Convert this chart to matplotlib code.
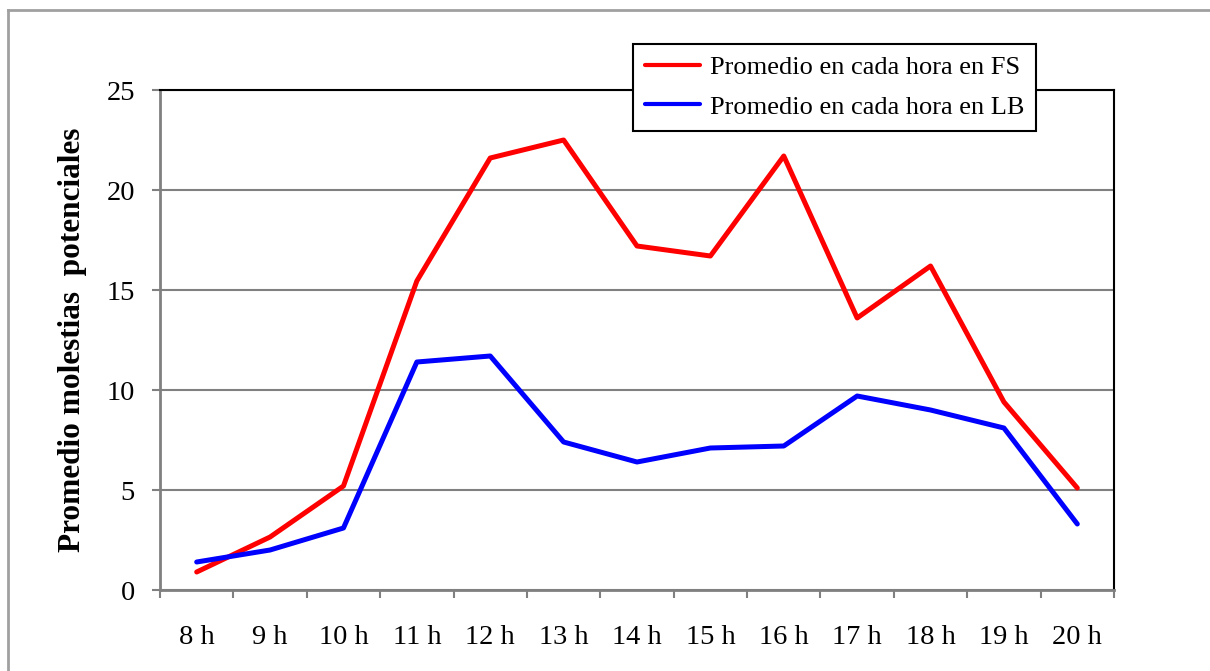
import numpy as np
import matplotlib
matplotlib.use("Agg")
import matplotlib.pyplot as plt
from matplotlib.lines import Line2D

plt.rcParams['font.family'] = ['Liberation Serif', 'DejaVu Serif']

# data
horas = ["8 h", "9 h", "10 h", "11 h", "12 h", "13 h", "14 h",
         "15 h", "16 h", "17 h", "18 h", "19 h", "20 h"]
prom_fs = [0.9, 2.65, 5.2, 15.45, 21.6, 22.5, 17.2, 16.7, 21.7, 13.6, 16.2, 9.4, 5.1]
prom_lb = [1.4, 2.0, 3.1, 11.4, 11.7, 7.4, 6.4, 7.1, 7.2, 9.7, 9.0, 8.1, 3.3]
yticks = [0, 5, 10, 15, 20, 25]

gray = "#808080"

fig = plt.figure(figsize=(12.1, 6.71), dpi=100)
ax = fig.add_axes([160/1210, 1 - 590/671, (1114 - 160)/1210, (590 - 90)/671])

x = np.arange(len(horas))
ax.plot(x, prom_fs, color="#ff0000", lw=3.6, solid_capstyle="round",
        solid_joinstyle="round", label="Promedio en cada hora en FS", zorder=3)
ax.plot(x, prom_lb, color="#0000ff", lw=3.6, solid_capstyle="round",
        solid_joinstyle="round", label="Promedio en cada hora en LB", zorder=3)

ax.set_xlim(-0.5, len(horas) - 0.5)
ax.set_ylim(0, 25)
ax.set_yticks(yticks)
ax.set_yticklabels([str(v) for v in yticks], fontsize=20.5)
ax.set_xticks(x)
ax.set_xticklabels(horas, fontsize=20.5)
ax.set_xticks(np.arange(-0.5, len(horas), 1), minor=True)
ax.tick_params(axis="x", which="major", length=0, pad=25)
ax.tick_params(axis="x", which="minor", length=6, width=1.5, color=gray, direction="out")
ax.tick_params(axis="y", length=6, width=1.5, color=gray, direction="out", pad=12)

ax.grid(axis="y", color=gray, lw=1.5)
ax.set_axisbelow(True)
for s in ["left", "bottom"]:
    ax.spines[s].set_color(gray)
    ax.spines[s].set_linewidth(2)
for s in ["top", "right"]:
    ax.spines[s].set_color("black")
    ax.spines[s].set_linewidth(1.5)

ax.set_ylabel("Promedio molestias  potenciales", fontsize=22.5, fontweight="bold", labelpad=14)

leg = fig.legend(loc="upper left", bbox_to_anchor=(633/1210, 1 - 44/671),
                 fontsize=19, frameon=True, fancybox=False, handlelength=2.1,
                 borderpad=0.45, labelspacing=0.6, handletextpad=0.35,
                 borderaxespad=0)
leg.get_frame().set_edgecolor("black")
leg.get_frame().set_linewidth(1.5)
leg.get_frame().set_alpha(1)
for h in leg.get_lines():
    h.set_linewidth(3)

# outer chart border
fig.add_artist(Line2D([8/1210, 8/1210], [0, 1 - 10/671], color="#a0a0a0", lw=2,
                      transform=fig.transFigure))
fig.add_artist(Line2D([8/1210, 1], [1 - 10/671, 1 - 10/671], color="#a0a0a0", lw=2,
                      transform=fig.transFigure))

fig.savefig("out.png", dpi=100)
